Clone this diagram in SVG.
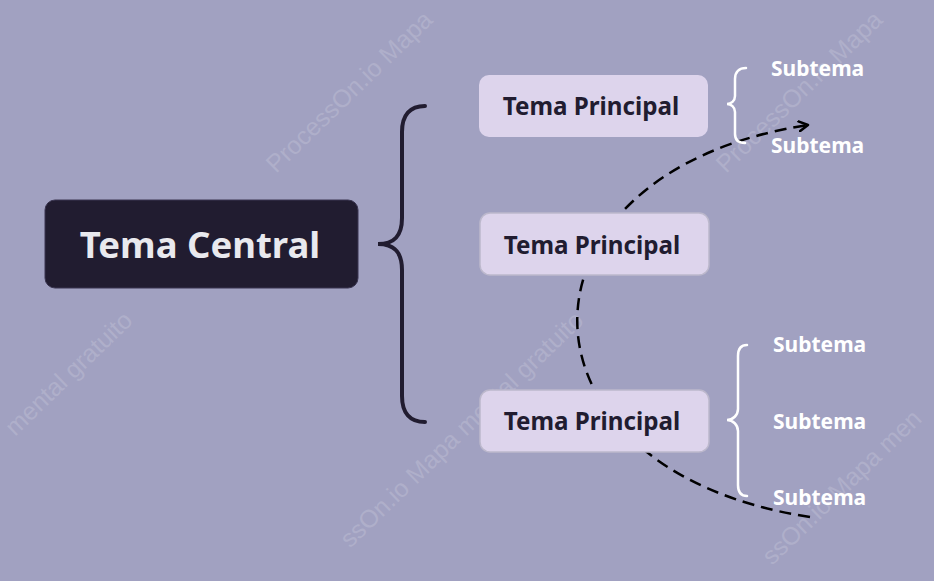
<svg xmlns="http://www.w3.org/2000/svg" width="934" height="581" viewBox="0 0 934 581">
  <defs>
    <marker id="arrow" viewBox="0 0 12 12" refX="10" refY="6" markerWidth="12" markerHeight="12" markerUnits="userSpaceOnUse" orient="auto">
      <path d="M1,1 L10,6 L1,11" fill="none" stroke="#000000" stroke-width="2.5" stroke-linecap="round" stroke-linejoin="round"/>
    </marker>
    <style>
      .wm { font-family: "Liberation Sans", Arial, sans-serif; font-size: 25px; fill: #afafca; }
      .central-box { fill: #211c30; stroke: #3a3550; stroke-width: 1; }
      .central-text { font-family: "Noto Sans", "Open Sans", sans-serif; font-weight: bold; font-size: 36.5px; fill: #e9e9ee; text-anchor: middle; }
      .main-box { fill: #ddd4ec; stroke: #bcb8cc; stroke-width: 1.5; }
      .main-text { font-family: "Noto Sans", "Open Sans", sans-serif; font-weight: bold; font-size: 24.2px; fill: #211c30; text-anchor: middle; }
      .sub-text { font-family: "Noto Sans", "Open Sans", sans-serif; font-weight: bold; font-size: 21px; fill: #ffffff; }
      .brace-dark { fill: none; stroke: #211c30; stroke-width: 4; stroke-linecap: round; }
      .brace-white { fill: none; stroke: #ffffff; stroke-width: 2.5; stroke-linecap: round; }
      .dashed { fill: none; stroke: #000000; stroke-width: 2.5; stroke-dasharray: 12 7; }
    </style>
  </defs>

  <rect x="0" y="0" width="934" height="581" fill="#a1a1c1"/>

  <g id="watermarks">
    <text class="wm" transform="translate(276,174) rotate(-44)">ProcessOn.io Mapa</text>
    <text class="wm" text-anchor="end" transform="translate(134,322) rotate(-44)">mental gratuito</text>
    <text class="wm" text-anchor="end" transform="translate(585,322) rotate(-44)">ssOn.io Mapa mental gratuito</text>
    <text class="wm" transform="translate(726,174) rotate(-44)">ProcessOn.io Mapa</text>
    <text class="wm" transform="translate(772,566) rotate(-44)">ssOn.io Mapa men</text>
  </g>

  <g id="connectors">
    <path class="dashed" d="M810,517 C500,470 500,172 808,125" marker-end="url(#arrow)"/>
    <path class="brace-dark" d="M425,106 C410,106 402,115 402,132 L402,218 C402,236 394,244 378,244 C394,244 402,252 402,270 L402,396 C402,413 410,422 425,422"/>
    <path class="brace-white" d="M746,68 C739,68 735,72 735,79 L735,96 C735,101 731,104 727,104 C731,104 735,107 735,112 L735,134 C735,140 739,143 745,143"/>
    <path class="brace-white" d="M747,345 C741,345 738,349 738,356 L738,409 C738,415 733,420 727,420 C733,420 738,425 738,431 L738,485 C738,492 741,496 747,496"/>
  </g>

  <g id="central">
    <rect class="central-box" x="45" y="200" width="313" height="88" rx="10" ry="10"/>
    <text class="central-text" x="200" y="258">Tema Central</text>
  </g>

  <g id="main1">
    <rect class="main-box" x="479" y="75" width="229" height="62" rx="10" ry="10" style="stroke:none"/>
    <text class="main-text" x="591" y="115">Tema Principal</text>
  </g>
  <g id="main2">
    <rect class="main-box" x="480" y="213" width="229" height="62" rx="10" ry="10"/>
    <text class="main-text" x="592" y="254">Tema Principal</text>
  </g>
  <g id="main3">
    <rect class="main-box" x="480" y="390" width="229" height="62" rx="10" ry="10"/>
    <text class="main-text" x="592" y="430">Tema Principal</text>
  </g>

  <g id="sub1"><text class="sub-text" x="771" y="76">Subtema</text></g>
  <g id="sub2"><text class="sub-text" x="771" y="153">Subtema</text></g>
  <g id="sub3"><text class="sub-text" x="773" y="352">Subtema</text></g>
  <g id="sub4"><text class="sub-text" x="773" y="429">Subtema</text></g>
  <g id="sub5"><text class="sub-text" x="773" y="505">Subtema</text></g>
</svg>
